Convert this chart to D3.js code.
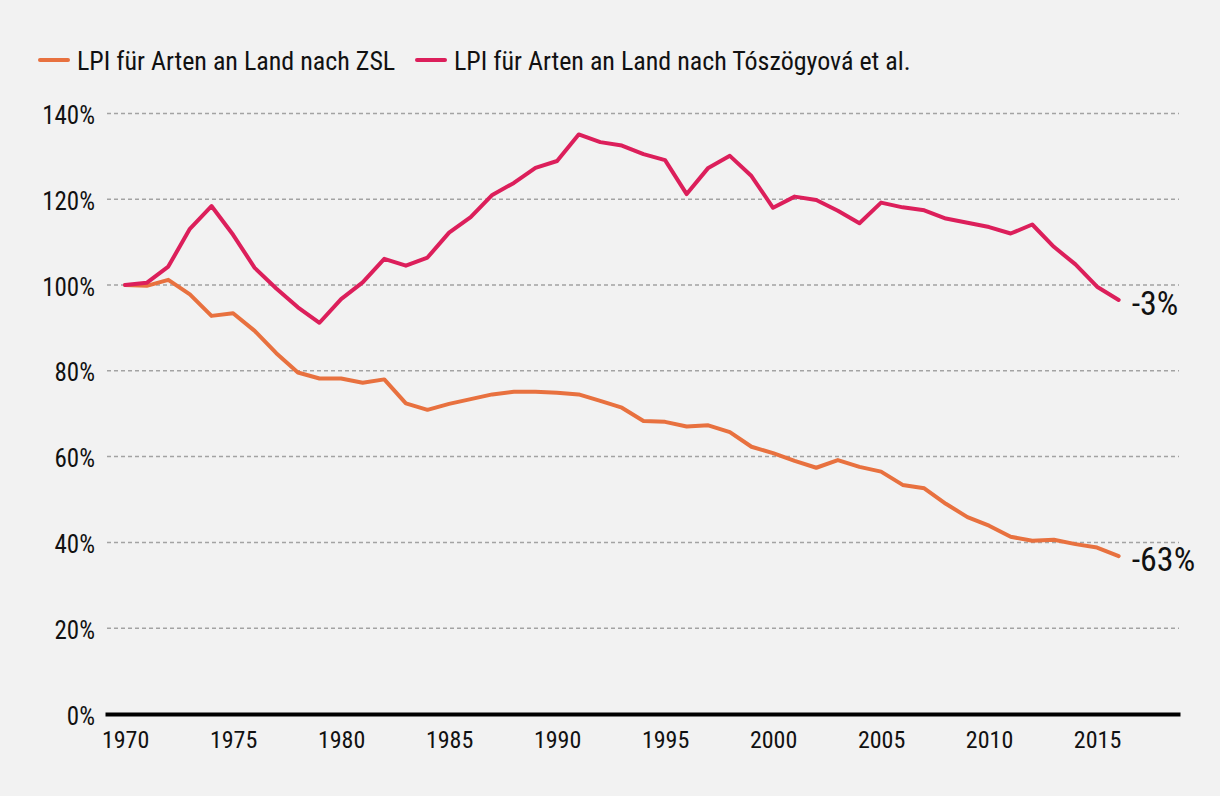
<!DOCTYPE html>
<html>
<head>
<meta charset="utf-8">
<script src="https://cdn.jsdelivr.net/npm/d3@7"></script>
<style>
  html, body { margin: 0; padding: 0; background: #f2f2f2; }
  svg { display: block; }
  text { font-family: "Roboto Condensed", "Liberation Sans Narrow", "DejaVu Sans Condensed", Roboto, sans-serif; font-stretch: condensed; fill: #111; }
</style>
</head>
<body>
<svg id="chart" width="1220" height="796"></svg>
<script>
const years = d3.range(1970, 2017);
const zslValues = [100, 99.8, 101.2, 97.8, 92.8, 93.4, 89.3, 84.1, 79.6, 78.2,
  78.2, 77.2, 78.0, 72.4, 70.9, 72.3, 73.4, 74.5, 75.1, 75.1,
  74.9, 74.5, 73.0, 71.4, 68.3, 68.1, 67.0, 67.3, 65.7, 62.3,
  60.8, 59.0, 57.4, 59.2, 57.6, 56.5, 53.4, 52.6, 49.0, 45.9,
  43.9, 41.3, 40.4, 40.6, 39.6, 38.8, 36.8];
const toszValues = [100, 100.5, 104.3, 113.1, 118.4, 111.7, 104.0, 99.2, 94.8, 91.2,
  96.7, 100.6, 106.1, 104.5, 106.4, 112.2, 115.8, 121.0, 123.8, 127.3,
  128.9, 135.1, 133.3, 132.5, 130.5, 129.1, 121.2, 127.3, 130.1, 125.4,
  118.0, 120.6, 119.8, 117.3, 114.4, 119.2, 118.1, 117.4, 115.5, 114.5,
  113.5, 112.0, 114.1, 108.9, 104.8, 99.6, 96.5];
const seriesNames = ["LPI für Arten an Land nach ZSL", "LPI für Arten an Land nach Tószögyová et al."];
const seriesColors = ["#e8713f", "#dc1f5b"];
const endLabels = ["-63%", "-3%"];
const yTicks = [0, 20, 40, 60, 80, 100, 120, 140];
const xTicks = [1970, 1975, 1980, 1985, 1990, 1995, 2000, 2005, 2010, 2015];

const FONT = "\"Roboto Condensed\", \"Liberation Sans Narrow\", \"DejaVu Sans Condensed\", Roboto, sans-serif";
const svg = d3.select("#chart");
const x = d3.scaleLinear().domain([1969.07, 2018.84]).range([105, 1180]);
const y = d3.scaleLinear().domain([0, 140]).range([714, 113.4]);

// gridlines
svg.append("g").selectAll("line").data(yTicks.filter(d => d > 0)).join("line")
  .attr("x1", 107).attr("x2", 1179)
  .attr("y1", d => y(d)).attr("y2", d => y(d))
  .attr("stroke", "#a3a3a3").attr("stroke-width", 1.5)
  .attr("stroke-dasharray", "4 3");

// y labels
svg.append("g").selectAll("text").data(yTicks).join("text")
  .attr("x", 95).attr("y", d => y(d) + 2)
  .attr("text-anchor", "end").attr("dominant-baseline", "central")
  .attr("font-size", 25)
  .text(d => d + "%");

// x axis
const xAxis = d3.axisBottom(x).tickValues(xTicks).tickFormat(d3.format("d")).tickSize(0).tickPadding(17);
const gx = svg.append("g").attr("transform", "translate(0,714)").call(xAxis);
gx.select(".domain").attr("stroke", "#000").attr("stroke-width", 4);
gx.selectAll("text").attr("font-size", 24).attr("fill", "#111").style("font-family", FONT);

// lines
const series = [zslValues, toszValues];
const line = d3.line().x((d, i) => x(years[i])).y(d => y(d));
series.forEach((vals, k) => {
  svg.append("path").datum(vals)
    .attr("d", line)
    .attr("fill", "none")
    .attr("stroke", seriesColors[k])
    .attr("stroke-width", 4)
    .attr("stroke-linejoin", "round")
    .attr("stroke-linecap", "round");
  const last = vals.length - 1;
  svg.append("text")
    .attr("x", x(years[last]) + 13)
    .attr("y", y(vals[last]) + 3)
    .attr("dominant-baseline", "central")
    .attr("font-size", 34)
    .text(endLabels[k]);
});

// legend
const legendX = [40, 417];
seriesNames.forEach((name, k) => {
  const g = svg.append("g").attr("transform", `translate(${legendX[k]},60)`);
  g.append("line").attr("x1", 0).attr("x2", 28).attr("y1", 0).attr("y2", 0)
    .attr("stroke", seriesColors[k]).attr("stroke-width", 4).attr("stroke-linecap", "round");
  g.append("text").attr("x", 37).attr("y", 1).attr("dominant-baseline", "central")
    .attr("font-size", 26).text(name);
});
</script>
</body>
</html>
